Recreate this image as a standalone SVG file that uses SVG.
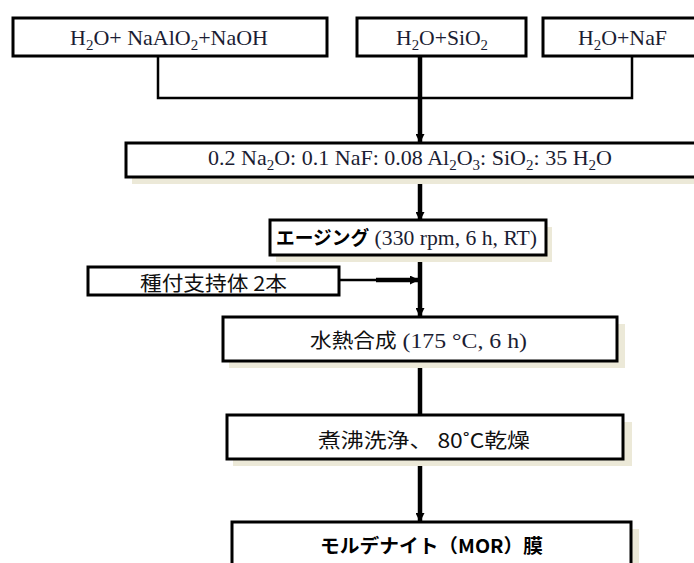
<svg xmlns="http://www.w3.org/2000/svg" width="694" height="563" viewBox="0 0 694 563">
<defs>
<style>
.box{fill:#fff;stroke:#000;stroke-width:3}
.sh{fill:#ECE9D8}
.serif{font-family:"Liberation Serif","Times New Roman",serif;font-size:22px;fill:#1b1d33}
.jp{font-family:"Noto Sans CJK JP","Noto Sans",sans-serif;font-size:20px;fill:#111}
.jpb{font-family:"Noto Sans CJK JP","Noto Sans",sans-serif;font-size:19px;font-weight:bold;fill:#000}
.thin{stroke:#000;stroke-width:2.5;fill:none}
.thick{stroke:#000;stroke-width:4.5;fill:none}
</style>
<marker id="ah" markerWidth="9" markerHeight="9" refX="8" refY="4.5" orient="auto" markerUnits="userSpaceOnUse">
<path d="M0,0 L9,4.5 L0,9 z" fill="#000"/>
</marker>
</defs>
<rect width="694" height="563" fill="#fff"/>

<g id="connectors">
<polyline class="thin" points="158,56 158,98 632,98 632,56"/>
<line class="thick" x1="420" y1="56" x2="420" y2="142" marker-end="url(#ah)"/>
<line class="thick" x1="420" y1="178" x2="420" y2="220" marker-end="url(#ah)"/>
<line class="thick" x1="420" y1="256" x2="420" y2="316" marker-end="url(#ah)"/>
<line class="thin" x1="339" y1="280" x2="378" y2="280"/>
<line class="thick" x1="376" y1="280" x2="418" y2="280" marker-end="url(#ah)"/>
<line class="thick" x1="420" y1="362" x2="420" y2="414"/>
<line class="thick" x1="420" y1="460" x2="420" y2="521" marker-end="url(#ah)"/>
</g>

<g id="n1">
<rect class="box" x="13" y="18" width="314" height="38"/>
<text class="serif" x="70" y="45" textLength="198" lengthAdjust="spacingAndGlyphs">H<tspan font-size="15" dy="5">2</tspan><tspan dy="-5">O+ NaAlO</tspan><tspan font-size="15" dy="5">2</tspan><tspan dy="-5">+NaOH</tspan></text>
</g>
<g id="n2">
<rect class="box" x="357" y="18" width="169" height="38"/>
<text class="serif" x="396" y="45" textLength="92" lengthAdjust="spacingAndGlyphs">H<tspan font-size="15" dy="5">2</tspan><tspan dy="-5">O+SiO</tspan><tspan font-size="15" dy="5">2</tspan></text>
</g>
<g id="n3">
<rect class="box" x="543" y="18" width="160" height="38"/>
<text class="serif" x="578" y="45" textLength="89" lengthAdjust="spacingAndGlyphs" fill="#444">H<tspan font-size="15" dy="5">2</tspan><tspan dy="-5">O+NaF</tspan></text>
</g>

<g id="n4">
<rect class="sh" x="132" y="149" width="570" height="35"/>
<rect class="box" x="126" y="143" width="576" height="34"/>
<text class="serif" x="208" y="165" textLength="404" lengthAdjust="spacingAndGlyphs">0.2 Na<tspan font-size="15" dy="5">2</tspan><tspan dy="-5">O: 0.1 NaF: 0.08 Al</tspan><tspan font-size="15" dy="5">2</tspan><tspan dy="-5">O</tspan><tspan font-size="15" dy="5">3</tspan><tspan dy="-5">: SiO</tspan><tspan font-size="15" dy="5">2</tspan><tspan dy="-5">: 35 H</tspan><tspan font-size="15" dy="5">2</tspan><tspan dy="-5">O</tspan></text>
</g>

<g id="n5">
<rect class="sh" x="276" y="227" width="276" height="35"/>
<rect class="box" x="270" y="220" width="276" height="35"/>
<text x="276" y="245" textLength="261" lengthAdjust="spacingAndGlyphs"><tspan class="jpb">エージング</tspan><tspan class="serif"> (330 rpm, 6 h, RT)</tspan></text>
</g>

<g id="n6">
<rect class="box" x="88" y="267" width="251" height="28"/>
<text class="jp" x="140" y="291" font-size="21" textLength="147" lengthAdjust="spacingAndGlyphs">種付支持体 2本</text>
</g>

<g id="n7">
<rect class="sh" x="229" y="324" width="396" height="44"/>
<rect class="box" x="223" y="317" width="394" height="44"/>
<text x="310" y="348" textLength="217" lengthAdjust="spacingAndGlyphs"><tspan class="jp">水熱合成</tspan><tspan class="serif">  (175 °C, 6 h)</tspan></text>
</g>

<g id="n8">
<rect class="sh" x="233" y="422" width="399" height="44"/>
<rect class="box" x="227" y="415" width="396" height="44"/>
<text class="jp" x="318" y="448" textLength="212" lengthAdjust="spacingAndGlyphs">煮沸洗浄、 80˚C乾燥</text>
</g>

<g id="n9">
<rect class="sh" x="238" y="529" width="401" height="40"/>
<rect class="box" x="232" y="522" width="399" height="46"/>
<text class="jpb" x="320" y="553" textLength="223" lengthAdjust="spacingAndGlyphs">モルデナイト（MOR）膜</text>
</g>
</svg>
